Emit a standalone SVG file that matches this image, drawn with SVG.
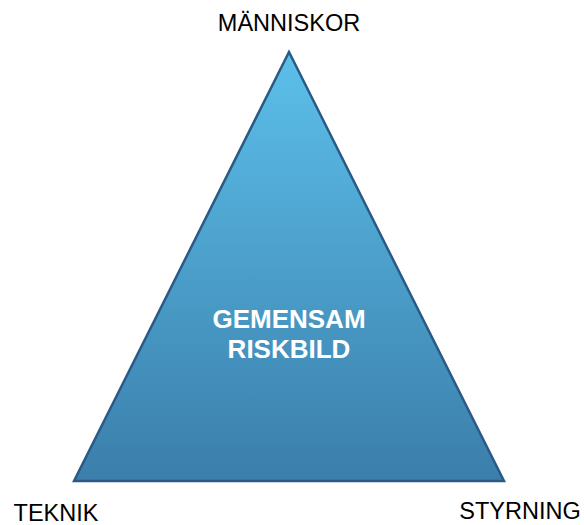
<svg xmlns="http://www.w3.org/2000/svg" width="584" height="525" viewBox="0 0 584 525">
<defs>
<linearGradient id="g" x1="0" y1="0" x2="0" y2="1">
<stop offset="0" stop-color="#5cc0ea"/>
<stop offset="1" stop-color="#3b7eab"/>
</linearGradient>
<style>
.lbl{font-family:"Liberation Sans",Arial,sans-serif;font-size:23.5px;fill:#000}
.c{font-family:"Liberation Sans",Arial,sans-serif;font-size:26px;font-weight:bold;fill:#fff}
</style>
</defs>
<rect width="584" height="525" fill="#fff"/>
<g id="triangle">
<polygon points="289,52 74,481 504,481" fill="url(#g)" stroke="#2b5a84" stroke-width="2.5" stroke-linejoin="miter"/>
<text class="c" x="289" y="328" text-anchor="middle">GEMENSAM</text>
<text class="c" x="289" y="358" text-anchor="middle">RISKBILD</text>
</g>
<g id="manniskor"><text class="lbl" x="289" y="31" text-anchor="middle">MÄNNISKOR</text></g>
<g id="teknik"><text class="lbl" x="56" y="521" text-anchor="middle">TEKNIK</text></g>
<g id="styrning"><text class="lbl" x="520" y="519" text-anchor="middle">STYRNING</text></g>
<g id="connectors"/>
</svg>
